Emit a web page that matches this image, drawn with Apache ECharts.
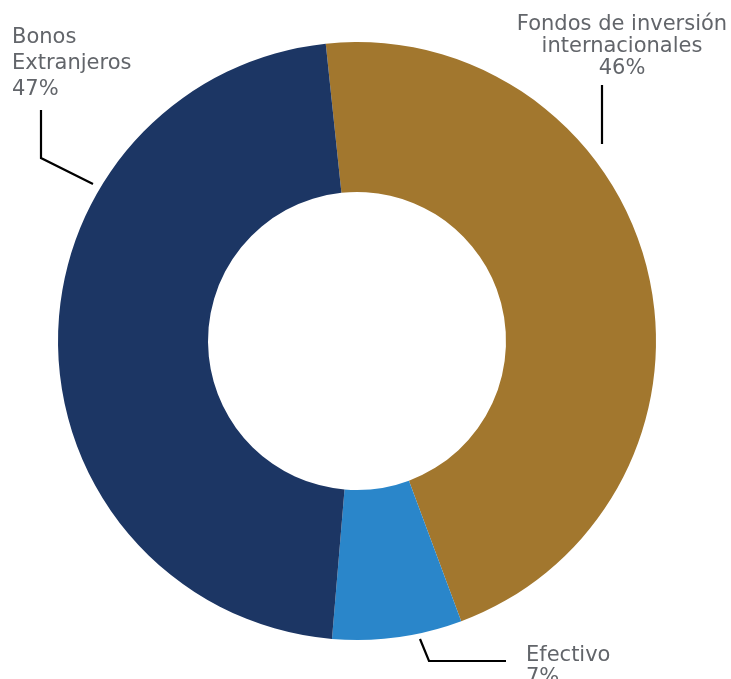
<!DOCTYPE html>
<html>
<head>
<meta charset="utf-8">
<style>
  html, body { margin: 0; padding: 0; background: #ffffff; }
  #chart { width: 731px; height: 679px; }
</style>
<script src="https://cdn.jsdelivr.net/npm/echarts@6/dist/echarts.min.js"></script>
</head>
<body>
<div id="chart"></div>
<script>
// Portfolio composition (percent)
const categories = ['Fondos de inversión\ninternacionales', 'Efectivo', 'Bonos\nExtranjeros'];
const shares = [46, 7, 47];
const colors = ['#a2772e', '#2a86ca', '#1c3664'];

// Label anchor and leader-line geometry, per slice
const labelPlacement = [
  { x: 622, y: 14, align: 'center', lineHeight: 22,
    line: [[602, 144], [602, 85], [602, 85]] },
  { x: 526, y: 645, align: 'left', lineHeight: 22,
    line: [[420, 639], [429, 661], [506, 661]] },
  { x: 12, y: 25, align: 'left', lineHeight: 26,
    line: [[93, 184], [41, 158], [41, 110]] }
];

const chart = echarts.init(document.getElementById('chart'), null, { renderer: 'canvas' });

chart.setOption({
  animation: false,
  backgroundColor: '#ffffff',
  series: [{
    type: 'pie',
    center: [357, 341],
    radius: [149, 299],
    startAngle: 96,
    clockwise: true,
    avoidLabelOverlap: false,
    data: categories.map((name, i) => ({
      name: name,
      value: shares[i],
      itemStyle: { color: colors[i] },
      label: { lineHeight: labelPlacement[i].lineHeight }
    })),
    label: {
      show: true,
      formatter: p => p.name + '\n' + p.value + '%',
      fontFamily: 'DejaVu Sans',
      fontSize: 21,
      color: '#62656a'
    },
    labelLine: {
      show: true,
      lineStyle: { color: '#000000', width: 2.2 }
    },
    labelLayout: function (params) {
      const p = labelPlacement[params.dataIndex];
      return {
        x: p.x,
        y: p.y,
        align: p.align,
        verticalAlign: 'top',
        labelLinePoints: p.line
      };
    }
  }]
});
</script>
</body>
</html>
